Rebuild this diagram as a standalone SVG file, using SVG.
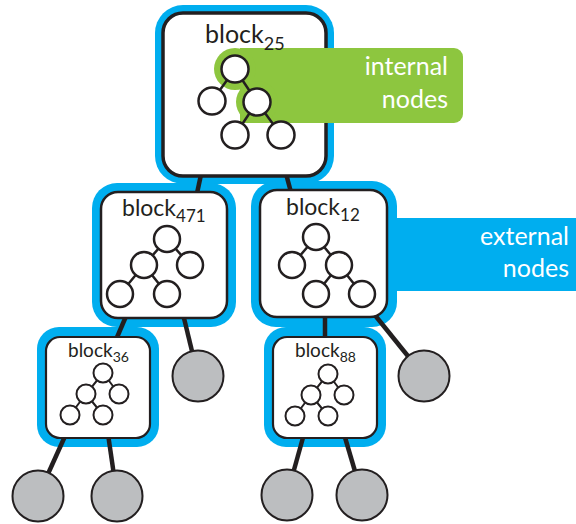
<svg xmlns="http://www.w3.org/2000/svg" width="576" height="524" viewBox="0 0 576 524">
  <style>
    .halo { fill: #00aeef; }
    .box { fill: #ffffff; stroke: #231f20; }
    .lbl { font-family: Lato, "Open Sans", "DejaVu Sans", sans-serif; fill: #231f20; }
    .wlbl { font-family: Lato, "Open Sans", "DejaVu Sans", sans-serif; fill: #ffffff; font-size: 25px; text-anchor: end; }
    .tn { fill: #ffffff; stroke: #231f20; }
    .te { stroke: #231f20; fill: none; }
    .link { stroke: #231f20; stroke-width: 4.5; fill: none; }
    .leaf { fill: #bcbec0; stroke: #231f20; stroke-width: 2; }
  </style>

  <!-- blue block outlines (drawn beneath the links) -->
  <g id="halos">
    <rect class="halo" x="155" y="5" width="179" height="179" rx="28"/>
    <rect class="halo" x="92" y="183" width="144" height="144" rx="25"/>
    <rect class="halo" x="251" y="181" width="146" height="146" rx="25"/>
    <rect class="halo" x="37" y="327" width="122" height="120" rx="22"/>
    <rect class="halo" x="264" y="327" width="122" height="120" rx="22"/>
  </g>

  <!-- "external nodes" banner joined to block12 -->
  <g id="external-label">
    <rect class="halo" x="392" y="218" width="190" height="73"/>
    <text class="wlbl" x="569" y="245">external</text>
    <text class="wlbl" x="569" y="277">nodes</text>
  </g>

  <!-- links between blocks and to leaves -->
  <g id="connectors">
    <line class="link" x1="202" y1="170" x2="196" y2="198"/>
    <line class="link" x1="285" y1="170" x2="292" y2="196"/>
    <line class="link" x1="127" y1="314" x2="115" y2="342"/>
    <line class="link" x1="183" y1="314" x2="198" y2="376"/>
    <line class="link" x1="66" y1="434" x2="38" y2="496"/>
    <line class="link" x1="108" y1="434" x2="117" y2="496"/>
    <line class="link" x1="325" y1="314" x2="325" y2="342"/>
    <line class="link" x1="374" y1="314" x2="424" y2="376"/>
    <line class="link" x1="304" y1="434" x2="287" y2="495"/>
    <line class="link" x1="344" y1="434" x2="362" y2="495"/>
  </g>

  <!-- root block -->
  <g id="block25">
    <rect class="box" x="163" y="13" width="163" height="163" rx="20" stroke-width="3.5"/>
    <g id="internal-label">
      <path fill="#8dc63f" d="M240,48 H454 A9,9 0 0 1 463,57 V114 A9,9 0 0 1 454,123 H240 Z"/>
      <circle fill="#8dc63f" cx="235" cy="69" r="21"/>
      <circle fill="#8dc63f" cx="257" cy="102" r="21"/>
      <text class="wlbl" x="448" y="75" font-size="26">internal</text>
      <text class="wlbl" x="448" y="108" font-size="26">nodes</text>
    </g>
    <text class="lbl" x="205" y="43" font-size="25">block<tspan font-size="18" dy="7">25</tspan></text>
    <g stroke-width="2.5">
      <path class="te" d="M235,69 L212,101 M235,69 L257,102 L235,135 M257,102 L281,135"/>
      <circle class="tn" cx="235" cy="69" r="13.5"/>
      <circle class="tn" cx="212" cy="101" r="13.5"/>
      <circle class="tn" cx="257" cy="102" r="13.5"/>
      <circle class="tn" cx="235" cy="135" r="13.5"/>
      <circle class="tn" cx="281" cy="135" r="13.5"/>
    </g>
  </g>

  <g id="block471">
    <rect class="box" x="101" y="192" width="126" height="126" rx="17" stroke-width="2.5"/>
    <text class="lbl" x="122" y="216" font-size="23">block<tspan font-size="17" dy="6">471</tspan></text>
    <g stroke-width="2.5">
      <path class="te" d="M167,239 L144,265 L120,294 M144,265 L167,294 M167,239 L190,265"/>
      <circle class="tn" cx="167" cy="239" r="13"/>
      <circle class="tn" cx="144" cy="265" r="13"/>
      <circle class="tn" cx="190" cy="265" r="13"/>
      <circle class="tn" cx="120" cy="294" r="13"/>
      <circle class="tn" cx="167" cy="294" r="13"/>
    </g>
  </g>

  <g id="block12">
    <rect class="box" x="260" y="190" width="127" height="127" rx="17" stroke-width="2.5"/>
    <text class="lbl" x="286" y="215" font-size="23">block<tspan font-size="17" dy="6">12</tspan></text>
    <g stroke-width="2.5">
      <path class="te" d="M316,237 L292,265 M316,237 L339,265 L316,294 M339,265 L362,294"/>
      <circle class="tn" cx="316" cy="237" r="13"/>
      <circle class="tn" cx="292" cy="265" r="13"/>
      <circle class="tn" cx="339" cy="265" r="13"/>
      <circle class="tn" cx="316" cy="294" r="13"/>
      <circle class="tn" cx="362" cy="294" r="13"/>
    </g>
  </g>

  <g id="block36">
    <rect class="box" x="46" y="337" width="104" height="101" rx="14" stroke-width="2.2"/>
    <text class="lbl" x="68" y="357" font-size="19">block<tspan font-size="14" dy="5">36</tspan></text>
    <g stroke-width="2">
      <path class="te" d="M103,373 L86,394 L70,415 M86,394 L103,415 M103,373 L119,394"/>
      <circle class="tn" cx="103" cy="373" r="9.5"/>
      <circle class="tn" cx="86" cy="394" r="9.5"/>
      <circle class="tn" cx="119" cy="394" r="9.5"/>
      <circle class="tn" cx="70" cy="415" r="9.5"/>
      <circle class="tn" cx="103" cy="415" r="9.5"/>
    </g>
  </g>

  <g id="block88">
    <rect class="box" x="273" y="337" width="104" height="101" rx="14" stroke-width="2.2"/>
    <text class="lbl" x="295" y="357" font-size="19">block<tspan font-size="14" dy="5">88</tspan></text>
    <g stroke-width="2">
      <path class="te" d="M328,374 L311,395 L295,416 M311,395 L328,416 M328,374 L344,395"/>
      <circle class="tn" cx="328" cy="374" r="9.5"/>
      <circle class="tn" cx="311" cy="395" r="9.5"/>
      <circle class="tn" cx="344" cy="395" r="9.5"/>
      <circle class="tn" cx="295" cy="416" r="9.5"/>
      <circle class="tn" cx="328" cy="416" r="9.5"/>
    </g>
  </g>

  <!-- leaf blocks -->
  <g id="leaf471"><circle class="leaf" cx="198" cy="376" r="25.5"/></g>
  <g id="leaf12"><circle class="leaf" cx="424" cy="376" r="25.5"/></g>
  <g id="leaf36a"><circle class="leaf" cx="38" cy="496" r="25.5"/></g>
  <g id="leaf36b"><circle class="leaf" cx="117" cy="496" r="25.5"/></g>
  <g id="leaf88a"><circle class="leaf" cx="287" cy="495" r="25.5"/></g>
  <g id="leaf88b"><circle class="leaf" cx="362" cy="495" r="25.5"/></g>
</svg>
